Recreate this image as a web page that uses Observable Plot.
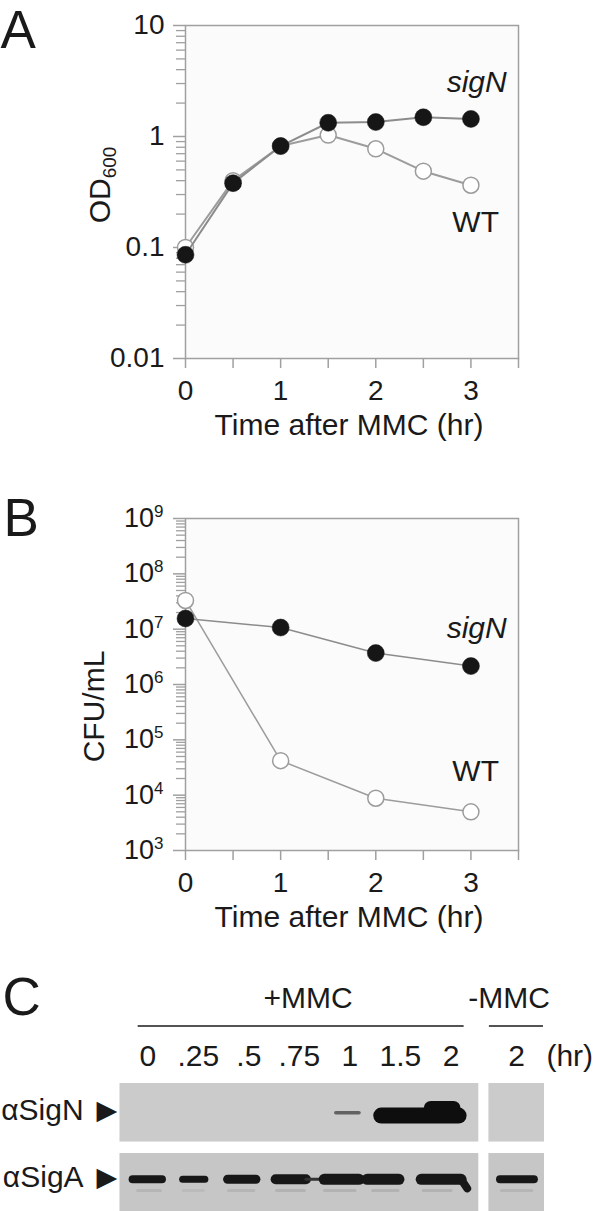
<!DOCTYPE html>
<html><head><meta charset="utf-8">
<script src="https://cdn.jsdelivr.net/npm/d3@7"></script>
<script src="https://cdn.jsdelivr.net/npm/@observablehq/plot@0.6"></script>
<style>
body{margin:0;background:#fff;}
#root{position:relative;width:600px;height:1211px;overflow:hidden;background:#fff;}
#root svg{position:absolute;left:0;}
</style></head><body><div id="root"></div>
<script>
// ---------- Panel A: OD600 ----------
const timeA = [0, 0.5, 1, 1.5, 2, 2.5, 3];
const odSigN = [0.086, 0.38, 0.82, 1.33, 1.35, 1.49, 1.44];
const odWT = [0.10, 0.40, 0.82, 1.03, 0.775, 0.487, 0.364];
const odMajorTicks = [0.01, 0.1, 1, 10];
const odTickLabels = ["0.01", "0.1", "1", "10"];

// ---------- Panel B: CFU/mL ----------
const timeB = [0, 1, 2, 3];
const cfuSigN = [1.56e7, 1.07e7, 3.7e6, 2.15e6];
const cfuWT = [3.3e7, 4.2e4, 8.8e3, 5.0e3];
const cfuMajorTicks = [1e3, 1e4, 1e5, 1e6, 1e7, 1e8, 1e9];

// shared
const timeTicks = [0, 0.5, 1, 1.5, 2, 2.5, 3, 3.5];
const timeTickLabels = ["0", "", "1", "", "2", "", "3", ""];
const seriesNames = ["sigN", "WT"];
const seriesLabelTime = [3.06, 3.05];
const seriesLabelOD = [3.07, 0.168];
const seriesLabelCFU = [1.05e7, 2.7e4];

// ---------- Panel C: western blot ----------
const laneLabels = ["0", ".25", ".5", ".75", "1", "1.5", "2", "2"];
const laneGroups = ["+MMC", "+MMC", "+MMC", "+MMC", "+MMC", "+MMC", "+MMC", "-MMC"];
const groupNames = ["+MMC", "-MMC"];
const groupLabelPos = [3.17, 7.15];
const groupRuleStart = [-0.2, 6.75];
const groupRuleEnd = [6.25, 7.82];
const blotRows = ["αSigN", "αSigA"];
// bands (row index, start lane, end lane, row offset start, row offset end, thickness, intensity)
const bandRow =    [1, 1, 1, 1, 1, 1, 1, 1, 1, 1, 1,      1, 1, 1, 1, 1, 1, 1, 1,      0, 0, 0];
const bandX1 =     [-0.30, 0.69, 1.58, 2.53, 3.13, 3.49, 4.18, 4.34, 5.41, 6.20, 6.97,   -0.2, 0.7, 1.6, 2.55, 3.5, 4.45, 5.45, 7.0,   3.72, 4.62, 5.6];
const bandX2 =     [0.28, 1.13, 2.14, 3.13, 3.49, 4.18, 4.34, 4.97, 6.20, 6.32, 7.64,   0.25, 1.1, 2.1, 3.1, 4.1, 4.95, 6.0, 7.6,   4.18, 6.15, 6.05];
const bandOff1 =   [-0.05, -0.05, -0.05, -0.05, -0.05, -0.05, -0.05, -0.05, -0.05, -0.05, -0.05,   0.11, 0.11, 0.11, 0.11, 0.11, 0.11, 0.11, 0.11,   0.0, 0.04, -0.07];
const bandOff2 =   [-0.05, -0.05, -0.05, -0.05, -0.05, -0.05, -0.05, -0.05, -0.05, 0.08, -0.05,   0.11, 0.11, 0.11, 0.11, 0.11, 0.11, 0.11, 0.11,   0.0, 0.04, -0.07];
const bandWeight = [8, 7, 9, 10, 3, 11, 7, 11, 11, 8, 8,   3, 3, 3, 3, 3, 3, 3, 3,   3.5, 16, 14];
const bandShade =  [0.95, 0.95, 0.95, 0.95, 0.8, 0.95, 0.95, 0.95, 0.95, 0.95, 0.95,   0.1, 0.07, 0.1, 0.12, 0.12, 0.12, 0.12, 0.1,   0.55, 1, 1];

const FONT = '"Liberation Sans", Arial, Helvetica, sans-serif';
const INK = "#1a1a1a";
const AXIS = "#a0a0a0";
const root = document.getElementById("root");

function minorTicks(lo, hi) {
  const out = [];
  for (let e = Math.round(Math.log10(lo)); e < Math.round(Math.log10(hi)); e++)
    for (let k = 2; k <= 9; k++) out.push(k * Math.pow(10, e));
  return out;
}

function growthPanel(o) {
  const wt = o.time.map((t, i) => ({t, v: o.wt[i]}));
  const sg = o.time.map((t, i) => ({t, v: o.sig[i]}));
  const labs = seriesNames.map((s, i) => ({s, t: seriesLabelTime[i], v: o.labelV[i]}));
  return Plot.plot({
    width: 600, height: o.height,
    marginLeft: 185, marginRight: 82, marginTop: o.marginTop, marginBottom: o.marginBottom,
    style: {fontFamily: FONT, color: INK, background: "transparent", overflow: "visible"},
    x: {domain: [0, 3.5]},
    y: {type: "log", domain: o.domain},
    marks: [
      Plot.frame({fill: "#fbfbfb", stroke: null}),
      Plot.axisY(minorTicks(o.domain[0], o.domain[1]), {tickSize: 9, stroke: AXIS, strokeWidth: 1.3, tickFormat: () => "", label: null}),
      Plot.axisY(o.major, {tickSize: 12, tickPadding: o.tickPad, stroke: AXIS, strokeWidth: 1.5, fontSize: o.yFont, fill: INK, tickFormat: o.fmt, label: null}),
      Plot.axisX(timeTicks, {tickSize: 10, tickPadding: 12, stroke: AXIS, strokeWidth: 1.5, fontSize: 28, fill: INK, tickFormat: d => timeTickLabels[timeTicks.indexOf(d)], label: null}),
      Plot.frame({stroke: AXIS, strokeWidth: 1.5}),
      Plot.line(wt, {x: "t", y: "v", stroke: "#9c9c9c", strokeWidth: o.lw}),
      Plot.dot(wt, {x: "t", y: "v", r: 8, fill: "white", stroke: "#9c9c9c", strokeWidth: 1.5}),
      Plot.line(sg, {x: "t", y: "v", stroke: "#8c8c8c", strokeWidth: o.lw}),
      Plot.dot(sg, {x: "t", y: "v", r: 8.5, fill: "#161616", stroke: "#161616", strokeWidth: 0.5}),
      Plot.text(labs.filter(d => d.s === "sigN"), {x: "t", y: "v", text: "s", fontSize: 30, fontStyle: "italic", fill: INK}),
      Plot.text(labs.filter(d => d.s === "WT"), {x: "t", y: "v", text: "s", fontSize: 30, fill: INK}),
      Plot.text(["Time after MMC (hr)"], {frameAnchor: "bottom", textAnchor: "middle", lineAnchor: "middle", dx: -3, dy: 67, fontSize: 30, fill: INK}),
      Plot.text([o.yLabel], {frameAnchor: "left", textAnchor: "middle", lineAnchor: "middle", rotate: -90, dx: o.yLabelDx, dy: o.yLabelDy, fontSize: 30, fill: INK}),
      Plot.text([o.letter], {frameAnchor: "top-left", dx: -185 + o.letterX, dy: o.letterDy, lineAnchor: "top", textAnchor: "start", fontSize: 53, fill: INK})
    ]
  });
}

const svgA = growthPanel({
  height: 460, marginTop: 25, marginBottom: 102, domain: [0.01, 10],
  time: timeA, wt: odWT, sig: odSigN, labelV: seriesLabelOD,
  major: odMajorTicks, fmt: d => odTickLabels[odMajorTicks.indexOf(d)], yFont: 28, tickPad: 9,
  yLabel: "OD600", yLabelDx: -85, yLabelDy: -7, letter: "A", letterX: 0, letterDy: -15, lw: 2
});
svgA.style.top = "0px";
root.appendChild(svgA);

const svgB = growthPanel({
  height: 500, marginTop: 58, marginBottom: 110, domain: [1e3, 1e9],
  time: timeB, wt: cfuWT, sig: cfuSigN, labelV: seriesLabelCFU,
  major: cfuMajorTicks, fmt: d => "10^" + Math.round(Math.log10(d)), yFont: 27, tickPad: 10,
  yLabel: "CFU/mL", yLabelDx: -91, yLabelDy: 22, letter: "B", letterX: 3, letterDy: -20, lw: 1.5
});
svgB.style.top = "460px";
root.appendChild(svgB);

// post-process: subscript / superscript
const NS = "http://www.w3.org/2000/svg";
for (const t of svgA.querySelectorAll("text")) {
  if (t.textContent === "OD600") {
    t.textContent = "OD";
    const s = document.createElementNS(NS, "tspan");
    s.setAttribute("font-size", "19");
    s.setAttribute("dy", "6");
    s.textContent = "600";
    t.appendChild(s);
  }
}
for (const t of svgB.querySelectorAll("text")) {
  const m = /^10\^(\d+)$/.exec(t.textContent);
  if (m) {
    t.textContent = "10";
    const s = document.createElementNS(NS, "tspan");
    s.setAttribute("font-size", "17");
    s.setAttribute("dy", "-10");
    s.textContent = m[1];
    t.appendChild(s);
  }
}

// ---------- Panel C ----------
const lanes = laneLabels.map((label, i) => ({label, group: laneGroups[i], pos: i + (laneGroups[i] === "-MMC" ? 0.3 : 0)}));
const groups = groupNames.map((g, i) => {
  const ps = lanes.filter(l => l.group === g).map(l => l.pos);
  return {group: g, min: d3.min(ps), max: d3.max(ps), labelPos: groupLabelPos[i], r1: groupRuleStart[i], r2: groupRuleEnd[i]};
});
const panels = groups.flatMap(g => blotRows.map((r, ri) => ({ri, x1: g.min - 0.55, x2: g.max + 0.55})));
const bands = bandRow.map((r, i) => ({x1: bandX1[i], x2: bandX2[i], y1: r + bandOff1[i], y2: r + bandOff2[i], w: bandWeight[i], k: bandShade[i]}));
const LEVEL = {letter: -1.93, group: -1.63, rule: -1.24, lane: -0.80};
const rowLabelOff = [-0.03, -0.075];
const shade = k => d3.interpolateRgb("#c8c8c8", "#0e0e0e")(k);

const svgC = Plot.plot({
  width: 600, height: 251, marginLeft: 122, marginRight: 56, marginTop: 0, marginBottom: 0,
  style: {fontFamily: FONT, color: INK, background: "transparent", overflow: "visible"},
  x: {domain: [-0.5, 7.85], axis: null},
  y: {domain: [-2.175, 1.41], reverse: true, axis: null},
  marks: [
    Plot.rect(panels, {x1: "x1", x2: "x2", y1: d => d.ri - 0.418, y2: d => d.ri + 0.418, fill: d => d.ri === 0 ? "#cbcbcb" : "#c6c6c6"}),
    Plot.link(bands, {x1: "x1", x2: "x2", y1: "y1", y2: "y2", strokeWidth: "w", stroke: d => shade(d.k), strokeLinecap: "round"}),
    Plot.text(lanes, {x: "pos", y: () => LEVEL.lane, text: "label", fontSize: 30, fill: INK}),
    Plot.text(["(hr)"], {x: () => 8.35, y: () => LEVEL.lane, fontSize: 30, fill: INK}),
    Plot.link(groups, {x1: "r1", x2: "r2", y1: () => LEVEL.rule, y2: () => LEVEL.rule, stroke: INK, strokeWidth: 1.5}),
    Plot.text(groups, {x: "labelPos", y: () => LEVEL.group, text: "group", fontSize: 30, fill: INK}),
    Plot.text(blotRows, {x: () => -1.27, y: (d, i) => i + rowLabelOff[i], text: d => d, textAnchor: "end", fontSize: 30, fill: INK}),
    Plot.text(blotRows, {x: () => -0.81, y: (d, i) => i + rowLabelOff[i], text: () => "▶", fontSize: 27, fontFamily: "DejaVu Sans", fill: INK}),
    Plot.text(["C"], {x: () => -0.5, y: () => LEVEL.letter, dx: -120, lineAnchor: "top", textAnchor: "start", fontSize: 53, fill: INK})
  ]
});
svgC.style.top = "960px";
root.appendChild(svgC);
</script>
</body></html>
